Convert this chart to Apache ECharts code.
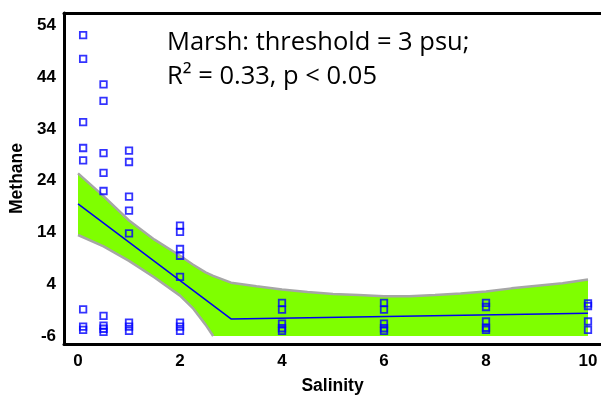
<!DOCTYPE html>
<html>
<head>
    <meta charset="UTF-8"/>
    <title>Methane vs Salinity</title>
    <script src="https://cdn.jsdelivr.net/npm/echarts@6/dist/echarts.min.js"></script>
    <style>
        html, body { margin: 0; padding: 0; background: #fff; }
        #chart { width: 601px; height: 397px; }
    </style>
</head>
<body>
<div id="chart"></div>
<script>
    // observed points, one array per salinity column
    var salinityCols = [0.1, 0.5, 1, 2, 4, 6, 8, 10];
    var methaneCols = [
        [52.1, 47.5, 35.3, 30.3, 27.9, -0.85, -4.2, -4.8],
        [42.6, 39.4, 29.3, 25.5, 22.0, -2.1, -4.0, -4.6, -5.2],
        [29.8, 27.6, 20.9, 18.2, 13.8, -3.4, -4.2, -5.0],
        [15.3, 14.1, 10.8, 9.5, 5.4, -3.4, -4.2, -5.0],
        [0.4, -0.9, -3.6, -4.5, -5.0],
        [0.4, -0.9, -3.6, -4.5, -5.0],
        [0.4, -0.4, -3.2, -4.4, -4.8],
        [0.3, -0.2, -3.2, -4.8]
    ];

    // piecewise fit (threshold at 3 psu)
    var fitX = [0, 3, 10];
    var fitY = [19.5, -2.7, -1.6];

    // confidence band (lower edge runs off the plot bottom after ~2.65)
    var bandX = [0, 0.5, 1, 1.5, 2, 2.25, 2.5, 2.65, 3, 3.5, 4, 4.5, 5, 5.5, 6, 6.5, 7, 7.5, 8, 8.5, 9, 9.5, 10];
    var bandUpper = [25.4, 21.0, 16.3, 12.6, 9.5, 7.8, 6.3, 5.6, 4.3, 3.6, 3.0, 2.5, 2.1, 1.9, 1.7, 1.7, 1.9, 2.2, 2.6, 3.2, 3.7, 4.2, 4.9];
    var lowerX = [0, 0.5, 1, 1.5, 2, 2.25, 2.5, 2.65];
    var bandLower = [13.5, 11.3, 8.5, 5.3, 1.8, -0.6, -3.8, -6];
    var bandFloor = -6;

    var xTicks = [0, 2, 4, 6, 8, 10];
    var yTicks = [-6, 4, 14, 24, 34, 44, 54];

    var pts = [];
    salinityCols.forEach(function (s, i) {
        methaneCols[i].forEach(function (m) { pts.push([s, m]); });
    });
    var upperData = bandX.map(function (x, i) { return [x, bandUpper[i]]; });
    var lowerData = lowerX.map(function (x, i) { return [x, bandLower[i]]; });
    var fitData = fitX.map(function (x, i) { return [x, fitY[i]]; });

    var tickFont = {fontFamily: 'Liberation Sans', fontWeight: 'bold', fontSize: 17, color: '#000'};
    var nameFont = {fontFamily: 'Liberation Sans', fontWeight: 'bold', fontSize: 17.5, color: '#000'};

    var myChart = echarts.init(document.getElementById('chart'));
    var option = {
        animation: false,
        title: {
            text: 'Marsh: threshold = 3 psu;\nR² = 0.33, p < 0.05',
            left: 162,
            top: 21,
            textStyle: {fontFamily: 'Open Sans', fontWeight: 'normal', fontSize: 25.5, lineHeight: 34, color: '#000'}
        },
        grid: {left: 64, top: 13, right: 0, bottom: 53, outerBoundsMode: 'none'},
        xAxis: [{
            type: 'value',
            min: -0.275,
            max: 10.255,
            name: 'Salinity',
            nameLocation: 'middle',
            nameGap: 33,
            nameTextStyle: nameFont,
            axisLine: {onZero: false, lineStyle: {color: '#000', width: 3}},
            axisTick: {show: false},
            splitLine: {show: false},
            axisLabel: Object.assign({customValues: xTicks, margin: 9}, tickFont)
        }, {
            type: 'value',
            position: 'top',
            min: -0.275,
            max: 10.255,
            axisLine: {show: true, onZero: false, lineStyle: {color: '#000', width: 3}},
            axisTick: {show: false},
            axisLabel: {show: false},
            splitLine: {show: false}
        }],
        yAxis: {
            type: 'value',
            min: -7.54,
            max: 56.36,
            name: 'Methane',
            nameLocation: 'middle',
            nameRotate: 90,
            nameGap: 36,
            nameTextStyle: nameFont,
            axisLine: {show: true, onZero: false, lineStyle: {color: '#000', width: 3}},
            axisTick: {show: false},
            splitLine: {show: false},
            axisLabel: Object.assign({customValues: yTicks, margin: 8}, tickFont)
        },
        series: [
            {
                name: 'upper',
                type: 'line',
                data: upperData,
                symbol: 'none',
                lineStyle: {color: '#a6a6a6', width: 2.5},
                areaStyle: {color: '#7fff00', opacity: 1, origin: bandFloor},
                z: 1
            },
            {
                name: 'lower',
                type: 'line',
                data: lowerData,
                symbol: 'none',
                lineStyle: {color: '#a6a6a6', width: 2.5},
                areaStyle: {color: '#ffffff', opacity: 1, origin: bandFloor},
                z: 2
            },
            {
                name: 'fit',
                type: 'line',
                data: fitData,
                symbol: 'none',
                lineStyle: {color: '#0000ee', width: 1.5},
                z: 4
            },
            {
                name: 'obs',
                type: 'scatter',
                data: pts,
                symbol: 'rect',
                symbolSize: 6.5,
                itemStyle: {color: 'rgba(0,0,0,0)', borderColor: '#0000ff', borderWidth: 1.8},
                z: 5
            }
        ]
    };
    myChart.setOption(option);
</script>
</body>
</html>
